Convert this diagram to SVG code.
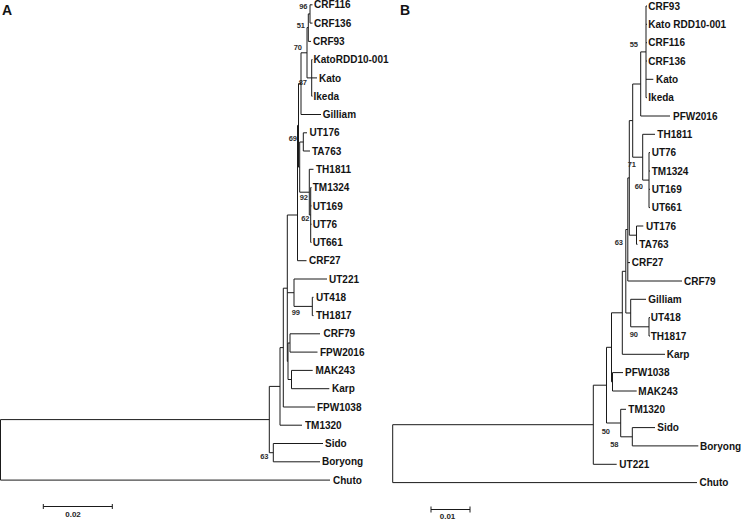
<svg xmlns="http://www.w3.org/2000/svg" width="741" height="519" viewBox="0 0 741 519">
<style>
.br{fill:none;stroke:#1a1a1a;stroke-width:1}
.lf{font-family:"Liberation Sans",Arial,sans-serif;font-size:10px;font-weight:bold;fill:#111}
.bs{font-family:"Liberation Sans",Arial,sans-serif;font-size:7.5px;font-weight:bold;fill:#2a2a2a;text-anchor:end}
.pl{font-family:"Liberation Sans",Arial,sans-serif;font-size:14px;font-weight:bold;fill:#111}
.sc{font-family:"Liberation Sans",Arial,sans-serif;font-size:8px;font-weight:bold;fill:#222;text-anchor:middle}
.gs{opacity:0.99}
</style>
<rect width="741" height="519" fill="#fff"/>
<g id="connectors">
<path class="br" d="M310 4.8V23.1M310 4.8H312.5M310 23.1H312.5
M308.3 13.9V41.4M308.3 13.9H310M308.3 41.4H311
M311.7 59.6V96.2M311.7 59.6H312.5M311.7 77.9H317M311.7 96.2H312.5
M307 27.6V77.9M307 27.6H308.3M307 77.9H311.7
M301 52.8V114.5M301 52.8H307M301 114.5H321
M303.3 132.8V151M303.3 132.8H307M303.3 151H310
M310.7 187.6V242.4M310.7 187.6H311.5M310.7 205.9H311.5M310.7 224.2H311.5M310.7 242.4H311.5
M309.3 169.3V215M309.3 169.3H313.5M309.3 215H310.7
M299.7 142V192.2M299.7 142H303.3M299.7 192.2H309.3
M298.5 83.6V167.1M298.5 83.6H301M298.5 167.1H299.7
M297.5 125.4V260.7M297.5 125.4H298.5M297.5 260.7H306.5
M294 279V306.4M294 279H327M294 306.4H312.3
M312.3 297.3V315.6M312.3 297.3H313.5M312.3 315.6H313.5
M290 333.8V352.1M290 333.8H320M290 352.1H317.5
M291.5 370.4V388.7M291.5 370.4H312.7M291.5 388.7H329.3
M288 343V379.5M288 343H290M288 379.5H291.5
M287.3 215V361.3M287.3 215H297.5M287.3 292.7H294M287.3 361.3H288
M283.3 288.2V407M283.3 288.2H287.3M283.3 407H315
M280 347.6V425.2M280 347.6H283.3M280 425.2H302
M273.3 443.5V461.8M273.3 443.5H323M273.3 461.8H320
M269.3 386.4V452.7M269.3 386.4H280M269.3 452.7H273.3
M0.5 419.6V480.1M0.5 419.6H269.3M0.5 480.1H330"/>
<path class="br" d="M646 6V97.7M646 6H647M646 24.3H647M646 42.7H647M646 61H647M646 79.3H653.3M646 97.7H647
M640.7 51.9V116M640.7 51.9H646M640.7 116H670
M649 152.6V207.6M649 152.6H650M649 171H650M649 189.3H650M649 207.6H650
M642.7 134.3V180.1M642.7 134.3H655M642.7 180.1H649
M632.7 84V157.2M632.7 84H640.7M632.7 157.2H642.7
M636.5 226V244.3M636.5 226H643.3M636.5 244.3H637.5
M629.3 120.6V235.2M629.3 120.6H632.7M629.3 235.2H636.5
M627.8 177.9V281M627.8 177.9H629.3M627.8 262.6H630M627.8 281H682
M649 317.6V336M649 317.6H650M649 336H650
M630.7 299.3V326.8M630.7 299.3H646M630.7 326.8H649
M625.8 229.5V313M625.8 229.5H627.8M625.8 313H630.7
M622.3 271.3V354.3M622.3 271.3H625.8M622.3 354.3H665
M612.5 372.6V391M612.5 372.6H623M612.5 391H636.7
M611.5 312.8V381.8M611.5 312.8H622.3M611.5 381.8H612.5
M632.3 427.6V445.9M632.3 427.6H655M632.3 445.9H698.3
M620.7 409.3V436.8M620.7 409.3H626M620.7 436.8H632.3
M606.5 347.3V423M606.5 347.3H611.5M606.5 423H620.7
M593.3 385.2V464.3M593.3 385.2H606.5M593.3 464.3H616.7
M392.7 424.7V482.6M392.7 424.7H593.3M392.7 482.6H697"/>
<path class="br" d="M43.3 506.5H112.3M43.3 504V509M112.3 504V509M431 509.5H470M431 506.5V512.5M470 506.5V512.5"/>
</g>
<g id="panelA" class="gs"><text class="pl" x="2" y="14.5">A</text></g>
<g id="panelB" class="gs"><text class="pl" x="400" y="14.5">B</text></g>
<g id="A-leaves" class="gs">
<g id="a-crf116"><text class="lf" x="314" y="8.4">CRF116</text></g>
<g id="a-crf136"><text class="lf" x="314" y="26.7">CRF136</text></g>
<g id="a-crf93"><text class="lf" x="313" y="45">CRF93</text></g>
<g id="a-katordd"><text class="lf" x="313.5" y="63.2">KatoRDD10-001</text></g>
<g id="a-kato"><text class="lf" x="319" y="81.5">Kato</text></g>
<g id="a-ikeda"><text class="lf" x="313.5" y="99.8">Ikeda</text></g>
<g id="a-gilliam"><text class="lf" x="322.7" y="118.1">Gilliam</text></g>
<g id="a-ut176"><text class="lf" x="309.5" y="136.4">UT176</text></g>
<g id="a-ta763"><text class="lf" x="312" y="154.6">TA763</text></g>
<g id="a-th1811"><text class="lf" x="316" y="172.9">TH1811</text></g>
<g id="a-tm1324"><text class="lf" x="312.7" y="191.2">TM1324</text></g>
<g id="a-ut169"><text class="lf" x="312.7" y="209.5">UT169</text></g>
<g id="a-ut76"><text class="lf" x="312.7" y="227.8">UT76</text></g>
<g id="a-ut661"><text class="lf" x="312.7" y="246">UT661</text></g>
<g id="a-crf27"><text class="lf" x="309" y="264.3">CRF27</text></g>
<g id="a-ut221"><text class="lf" x="329" y="282.6">UT221</text></g>
<g id="a-ut418"><text class="lf" x="316" y="300.9">UT418</text></g>
<g id="a-th1817"><text class="lf" x="316" y="319.2">TH1817</text></g>
<g id="a-crf79"><text class="lf" x="323.5" y="337.4">CRF79</text></g>
<g id="a-fpw2016"><text class="lf" x="320" y="355.7">FPW2016</text></g>
<g id="a-mak243"><text class="lf" x="315.5" y="374">MAK243</text></g>
<g id="a-karp"><text class="lf" x="332" y="392.3">Karp</text></g>
<g id="a-fpw1038"><text class="lf" x="317" y="410.6">FPW1038</text></g>
<g id="a-tm1320"><text class="lf" x="305" y="428.8">TM1320</text></g>
<g id="a-sido"><text class="lf" x="325" y="447.1">Sido</text></g>
<g id="a-boryong"><text class="lf" x="322" y="465.4">Boryong</text></g>
<g id="a-chuto"><text class="lf" x="333" y="483.7">Chuto</text></g>
</g>
<g id="A-support" class="gs">
<g id="a-bs96"><text class="bs" x="307.5" y="9.4">96</text></g>
<g id="a-bs51"><text class="bs" x="305" y="27.7">51</text></g>
<g id="a-bs70"><text class="bs" x="302" y="50.4">70</text></g>
<g id="a-bs87"><text class="bs" x="307" y="85.4">87</text></g>
<g id="a-bs69"><text class="bs" x="297" y="140.7">69</text></g>
<g id="a-bs92"><text class="bs" x="308" y="199.7">92</text></g>
<g id="a-bs62"><text class="bs" x="309.5" y="220.7">62</text></g>
<g id="a-bs99"><text class="bs" x="300" y="315">99</text></g>
<g id="a-bs63"><text class="bs" x="268.5" y="459.4">63</text></g>
</g>
<g id="B-leaves" class="gs">
<g id="b-crf93"><text class="lf" x="648.3" y="9.6">CRF93</text></g>
<g id="b-katordd"><text class="lf" x="648.3" y="27.9">Kato RDD10-001</text></g>
<g id="b-crf116"><text class="lf" x="648.3" y="46.3">CRF116</text></g>
<g id="b-crf136"><text class="lf" x="648.3" y="64.6">CRF136</text></g>
<g id="b-kato"><text class="lf" x="656" y="82.9">Kato</text></g>
<g id="b-ikeda"><text class="lf" x="648.3" y="101.3">Ikeda</text></g>
<g id="b-pfw2016"><text class="lf" x="673" y="119.6">PFW2016</text></g>
<g id="b-th1811"><text class="lf" x="657.3" y="137.9">TH1811</text></g>
<g id="b-ut76"><text class="lf" x="651.7" y="156.2">UT76</text></g>
<g id="b-tm1324"><text class="lf" x="651.7" y="174.6">TM1324</text></g>
<g id="b-ut169"><text class="lf" x="651.7" y="192.9">UT169</text></g>
<g id="b-ut661"><text class="lf" x="651.7" y="211.2">UT661</text></g>
<g id="b-ut176"><text class="lf" x="646" y="229.6">UT176</text></g>
<g id="b-ta763"><text class="lf" x="639.3" y="247.9">TA763</text></g>
<g id="b-crf27"><text class="lf" x="631.7" y="266.2">CRF27</text></g>
<g id="b-crf79"><text class="lf" x="684" y="284.6">CRF79</text></g>
<g id="b-gilliam"><text class="lf" x="648.3" y="302.9">Gilliam</text></g>
<g id="b-ut418"><text class="lf" x="650.7" y="321.2">UT418</text></g>
<g id="b-th1817"><text class="lf" x="650.7" y="339.6">TH1817</text></g>
<g id="b-karp"><text class="lf" x="666.7" y="357.9">Karp</text></g>
<g id="b-pfw1038"><text class="lf" x="625" y="376.2">PFW1038</text></g>
<g id="b-mak243"><text class="lf" x="638.3" y="394.6">MAK243</text></g>
<g id="b-tm1320"><text class="lf" x="628.3" y="412.9">TM1320</text></g>
<g id="b-sido"><text class="lf" x="657.3" y="431.2">Sido</text></g>
<g id="b-boryong"><text class="lf" x="700" y="449.5">Boryong</text></g>
<g id="b-ut221"><text class="lf" x="619.3" y="467.9">UT221</text></g>
<g id="b-chuto"><text class="lf" x="699.5" y="486.2">Chuto</text></g>
</g>
<g id="B-support" class="gs">
<g id="b-bs55"><text class="bs" x="638" y="47">55</text></g>
<g id="b-bs71"><text class="bs" x="636" y="167">71</text></g>
<g id="b-bs60"><text class="bs" x="643" y="189.4">60</text></g>
<g id="b-bs63"><text class="bs" x="623" y="244.7">63</text></g>
<g id="b-bs90"><text class="bs" x="638" y="336.7">90</text></g>
<g id="b-bs50"><text class="bs" x="610" y="434.4">50</text></g>
<g id="b-bs58"><text class="bs" x="618.5" y="447">58</text></g>
</g>
<g id="scaleA" class="gs"><text class="sc" x="73" y="517">0.02</text></g>
<g id="scaleB" class="gs"><text class="sc" x="447.5" y="518.5">0.01</text></g>
</svg>
